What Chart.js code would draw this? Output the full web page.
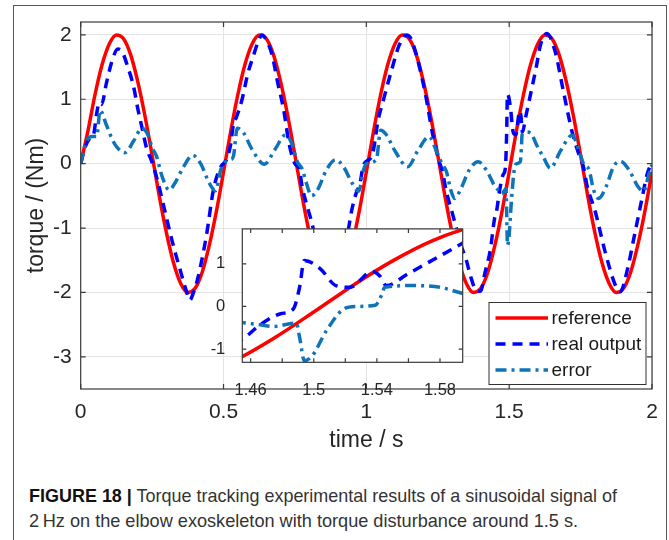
<!DOCTYPE html>
<html>
<head>
<meta charset="utf-8">
<script src="https://cdn.jsdelivr.net/npm/chart.js@4.4.0/dist/chart.umd.min.js"></script>
<style>
  html, body { margin: 0; padding: 0; background: #fff; }
  body { width: 669px; height: 540px; position: relative; overflow: hidden; font-family: "Liberation Sans", Arial, sans-serif; }
  #frame { position: absolute; left: 13px; top: 5px; width: 654px; height: 600px; border: 1.5px solid #555; box-sizing: border-box; }
  #main { position: absolute; left: 0; top: 0; }
  #inset { position: absolute; left: 190px; top: 210px; }
  #caption { position: absolute; left: 29px; top: 483px; font-size: 18.5px; line-height: 25px; color: #333; }
  #caption div { white-space: nowrap; transform-origin: 0 50%; display: inline-block; }
  #caption b { color: #111; }
</style>
</head>
<body>
<div id="frame"></div>
<canvas id="main" width="669" height="460"></canvas>
<canvas id="inset" width="290" height="190"></canvas>
<div id="caption">
  <div id="cap1"><b>FIGURE 18 |</b> Torque tracking experimental results of a sinusoidal signal of</div><br>
  <div id="cap2">2&#8201;Hz on the elbow exoskeleton with torque disturbance around 1.5 s.</div>
</div>
<script>
// values (time in s, torque in Nm)

const refT = [0, 0.025, 0.05, 0.075, 0.1, 0.125, 0.15, 0.175, 0.2, 0.225,
  0.25, 0.275, 0.3, 0.325, 0.35, 0.375, 0.4, 0.425, 0.45, 0.475,
  0.5, 0.525, 0.55, 0.575, 0.6, 0.625, 0.65, 0.675, 0.7, 0.725,
  0.75, 0.775, 0.8, 0.825, 0.85, 0.875, 0.9, 0.925, 0.95, 0.975,
  1.0, 1.025, 1.05, 1.075, 1.1, 1.125, 1.15, 1.175, 1.2, 1.225,
  1.25, 1.275, 1.3, 1.325, 1.35, 1.375, 1.4, 1.425, 1.45, 1.475,
  1.5, 1.525, 1.55, 1.575, 1.6, 1.625, 1.65, 1.675, 1.7, 1.725,
  1.75, 1.775, 1.8, 1.825, 1.85, 1.875, 1.9, 1.925, 1.95, 1.975, 2.0];
const refV = [0, 0.50, 1.07, 1.54, 1.86, 2.00, 1.94, 1.69, 1.27, 0.74,
  0.13, -0.50, -1.07, -1.54, -1.86, -2.00, -1.94, -1.69, -1.27, -0.74,
  -0.13, 0.50, 1.07, 1.54, 1.86, 2.00, 1.94, 1.69, 1.27, 0.74,
  0.13, -0.50, -1.07, -1.54, -1.86, -2.00, -1.94, -1.69, -1.27, -0.74,
  -0.13, 0.50, 1.07, 1.54, 1.86, 2.00, 1.94, 1.69, 1.27, 0.74,
  0.13, -0.50, -1.07, -1.54, -1.86, -2.00, -1.94, -1.69, -1.27, -0.74,
  -0.13, 0.50, 1.07, 1.54, 1.86, 2.00, 1.94, 1.69, 1.27, 0.74,
  0.13, -0.50, -1.07, -1.54, -1.86, -2.00, -1.94, -1.69, -1.27, -0.74, -0.13];

const realT = [0, 0.015, 0.03, 0.045, 0.056, 0.065, 0.073, 0.09, 0.11, 0.13,
  0.145, 0.165, 0.185, 0.2, 0.215, 0.23, 0.25, 0.27, 0.29, 0.32,
  0.35, 0.37, 0.382, 0.395, 0.41, 0.44, 0.465, 0.49, 0.51, 0.525,
  0.535, 0.545, 0.565, 0.585, 0.605, 0.62, 0.635, 0.65, 0.67, 0.69,
  0.71, 0.73, 0.75, 0.765, 0.775, 0.79, 0.805, 0.83, 0.855, 0.875,
  0.89, 0.91, 0.93, 0.95, 0.965, 0.978, 0.99, 1.02, 1.03, 1.04,
  1.058, 1.087, 1.115, 1.14, 1.155, 1.175, 1.205, 1.233, 1.255, 1.265,
  1.28, 1.303, 1.33, 1.35, 1.365, 1.385, 1.4, 1.415, 1.434, 1.449,
  1.455, 1.466, 1.479, 1.487, 1.491, 1.494, 1.504, 1.514, 1.523, 1.537,
  1.542, 1.546, 1.559, 1.573, 1.594, 1.61, 1.632, 1.661, 1.69, 1.72,
  1.749, 1.76, 1.772, 1.801, 1.836, 1.871, 1.889, 1.912, 1.941, 1.965,
  1.982, 2.0];
const realV = [0, 0.25, 0.38, 0.45, 0.78, 0.95, 0.92, 1.25, 1.6, 1.78,
  1.74, 1.5, 1.2, 0.85, 0.55, 0.25, 0.02, -0.28, -0.65, -1.2,
  -1.68, -1.98, -2.12, -2.0, -1.78, -1.12, -0.4, -0.05, 0.06, 0.3,
  0.62, 0.72, 1.0, 1.4, 1.68, 1.88, 2.0, 1.92, 1.69, 1.25,
  0.85, 0.3, 0.0, -0.08, -0.35, -0.62, -0.85, -1.3, -1.75, -1.97,
  -2.0, -1.6, -1.2, -0.7, -0.45, -0.3, -0.02, 0.12, 0.35, 0.65,
  0.96, 1.43, 1.84, 2.0, 1.95, 1.69, 1.12, 0.44, 0.03, -0.1,
  -0.43, -0.8, -1.25, -1.5, -1.75, -1.97, -1.98, -1.7, -1.34, -0.85,
  -0.76, -0.43, -0.17, -0.06, 0.45, 1.08, 0.89, 0.49, 0.45, 0.82,
  0.71, 0.49, 0.75, 1.04, 1.48, 1.85, 2.02, 1.74, 1.12, 0.5,
  0.08, -0.05, -0.33, -0.74, -1.37, -1.88, -1.99, -1.68, -1.06, -0.54,
  -0.18, 0.03];

const errT = [0, 0.01, 0.023, 0.04, 0.056, 0.068, 0.09, 0.11, 0.126, 0.155,
  0.185, 0.214, 0.235, 0.25, 0.265, 0.285, 0.31, 0.33, 0.36, 0.392,
  0.42, 0.45, 0.472, 0.49, 0.5, 0.525, 0.535, 0.548, 0.57, 0.6,
  0.643, 0.68, 0.718, 0.74, 0.758, 0.775, 0.79, 0.808, 0.83, 0.86,
  0.892, 0.92, 0.95, 0.973, 0.99, 1.0, 1.035, 1.05, 1.07, 1.1,
  1.145, 1.18, 1.22, 1.245, 1.265, 1.28, 1.295, 1.309, 1.33, 1.36,
  1.391, 1.42, 1.45, 1.466, 1.474, 1.489, 1.491, 1.494, 1.499, 1.508,
  1.519, 1.527, 1.539, 1.543, 1.545, 1.563, 1.58, 1.594, 1.62, 1.644,
  1.68, 1.72, 1.745, 1.76, 1.78, 1.795, 1.813, 1.84, 1.865, 1.889,
  1.92, 1.95, 1.97, 1.99, 2.0];
const errV = [0, 0.2, 0.37, 0.42, 0.42, 0.83, 0.6, 0.38, 0.26, 0.17,
  0.35, 0.55, 0.45, 0.25, 0.12, -0.2, -0.41, -0.3, -0.05, 0.13,
  0.0, -0.3, -0.42, -0.1, 0.0, 0.06, 0.12, 0.55, 0.48, 0.22,
  -0.01, 0.22, 0.45, 0.3, 0.03, -0.08, -0.3, -0.5, -0.4, -0.1,
  0.06, -0.05, -0.3, -0.43, -0.1, 0.0, 0.06, 0.52, 0.45, 0.2,
  -0.05, 0.2, 0.42, 0.2, 0.0, -0.12, -0.4, -0.54, -0.4, -0.1,
  0.03, -0.1, -0.35, -0.43, -0.47, -0.39, -0.72, -1.27, -1.16, -0.57,
  -0.06, 0.0, 0.03, 0.27, 0.45, 0.49, 0.45, 0.31, 0.1, -0.07,
  0.2, 0.44, 0.2, 0.0, -0.1, -0.4, -0.54, -0.35, -0.05, 0.04,
  -0.1, -0.35, -0.43, -0.15, -0.02];

const seriesNames = ["reference", "real output", "error"];

const xTicks = [0, 0.5, 1, 1.5, 2];
const yTicks = [-3, -2, -1, 0, 1, 2];
const insetXTicks = [1.46, 1.48, 1.5, 1.52, 1.54, 1.56, 1.58];
const insetXLabels = [1.46, 1.5, 1.54, 1.58];
const insetYTicks = [-1, 0, 1];

const textColor = "#262626";
const axisColor = "#3a3a3a";

function toPts(ts, vs) {
    return ts.map((t, i) => ({ x: t, y: vs[i] }));
}

// plain number labels like matlab: 0, 0.5, 1 ...
function plainLabel(v) {
    return String(Math.round(v * 100) / 100);
}

function makeDatasets() {
    return [
        { label: seriesNames[0], data: toPts(refT, refV), borderColor: "#ff0000", borderWidth: 3.5, order: 3 },
        { label: seriesNames[1], data: toPts(realT, realV), borderColor: "#0000ff", borderWidth: 3.5, borderDash: [10, 7], order: 2 },
        { label: seriesNames[2], data: toPts(errT, errV), borderColor: "#0f74b7", borderWidth: 3.5, borderDash: [11, 5, 3, 5], order: 1 },
    ];
}

// white plot box, inward tick marks on all four sides, dark frame
const boxPlugin = {
    id: "matlabBox",
    beforeDraw(chart, args, opts) {
        if (!opts.fill) return;
        const a = chart.chartArea;
        chart.ctx.save();
        chart.ctx.fillStyle = "#fff";
        chart.ctx.fillRect(a.left, a.top, a.right - a.left, a.bottom - a.top);
        chart.ctx.restore();
    },
    afterDatasetsDraw(chart, args, opts) {
        const { ctx, chartArea: a, scales } = chart;
        const len = opts.len || 5;
        ctx.save();
        ctx.strokeStyle = axisColor;
        ctx.lineWidth = 1.2;
        ctx.beginPath();
        scales.x.ticks.forEach((t) => {
            const px = scales.x.getPixelForValue(t.value);
            ctx.moveTo(px, a.bottom);
            ctx.lineTo(px, a.bottom - len);
            ctx.moveTo(px, a.top);
            ctx.lineTo(px, a.top + len);
        });
        scales.y.ticks.forEach((t) => {
            const py = scales.y.getPixelForValue(t.value);
            ctx.moveTo(a.left, py);
            ctx.lineTo(a.left + len, py);
            ctx.moveTo(a.right, py);
            ctx.lineTo(a.right - len, py);
        });
        ctx.stroke();
        ctx.strokeRect(a.left, a.top, a.right - a.left, a.bottom - a.top);
        ctx.restore();
    },
};

// boxed legend in the lower right corner of the plot
const legendPlugin = {
    id: "boxLegend",
    afterDatasetsDraw(chart) {
        const { ctx, chartArea: a } = chart;
        const w = 157, h = 82;
        const left = a.right - 6 - w;
        const top = a.bottom - 4.5 - h;
        ctx.save();
        ctx.fillStyle = "#fff";
        ctx.fillRect(left, top, w, h);
        ctx.strokeStyle = "#333";
        ctx.lineWidth = 1;
        ctx.strokeRect(left, top, w, h);
        ctx.font = "19px 'Liberation Sans', Arial, sans-serif";
        ctx.textBaseline = "middle";
        chart.data.datasets.forEach((ds, i) => {
            const y = top + 15.5 + i * 26;
            ctx.strokeStyle = ds.borderColor;
            ctx.lineWidth = ds.borderWidth;
            ctx.setLineDash(ds.borderDash || []);
            ctx.beginPath();
            ctx.moveTo(left + 6.5, y);
            ctx.lineTo(left + 59, y);
            ctx.stroke();
            ctx.setLineDash([]);
            ctx.fillStyle = "#1a1a1a";
            ctx.fillText(ds.label, left + 62.5, y + 1);
        });
        ctx.restore();
    },
};

Chart.defaults.font.family = "'Liberation Sans', Arial, sans-serif";
Chart.defaults.color = textColor;

var mainChart = new Chart(document.getElementById("main").getContext("2d"), {
    type: "line",
    data: { datasets: makeDatasets() },
    options: {
        responsive: false,
        animation: false,
        layout: { padding: { left: 0, top: 22, right: 17, bottom: 0 } },
        elements: { point: { radius: 0 }, line: { cubicInterpolationMode: "monotone" } },
        plugins: { legend: { display: false }, tooltip: { enabled: false }, matlabBox: { len: 5 } },
        scales: {
            x: {
                type: "linear",
                min: 0,
                max: 2,
                afterBuildTicks: (s) => { s.ticks = xTicks.map((v) => ({ value: v })); },
                afterFit: (s) => { s.height = 71; },
                grid: { color: "#e4e4e4", drawTicks: false },
                border: { display: false },
                ticks: { padding: 11, font: { size: 21 }, maxRotation: 0, autoSkip: false, callback: plainLabel },
                title: { display: true, text: "time / s", font: { size: 23 }, padding: { top: 0, bottom: 6 } },
            },
            y: {
                type: "linear",
                min: -3.5,
                max: 2.2,
                afterBuildTicks: (s) => { s.ticks = yTicks.map((v) => ({ value: v })); },
                afterFit: (s) => { s.width = 80.7; },
                grid: { color: "#e4e4e4", drawTicks: false },
                border: { display: false },
                ticks: { padding: 9, font: { size: 21 }, callback: plainLabel },
                title: { display: true, text: "torque / (Nm)", font: { size: 23 }, padding: { top: 23, bottom: 0 } },
            },
        },
    },
    plugins: [boxPlugin, legendPlugin],
});

var insetChart = new Chart(document.getElementById("inset").getContext("2d"), {
    type: "line",
    data: { datasets: makeDatasets() },
    options: {
        responsive: false,
        animation: false,
        layout: { padding: { left: 0, top: 10, right: 17.3, bottom: 0 } },
        elements: { point: { radius: 0 }, line: { cubicInterpolationMode: "monotone" } },
        datasets: { line: { clip: 0 } },
        plugins: { legend: { display: false }, tooltip: { enabled: false }, matlabBox: { len: 4, fill: true } },
        scales: {
            x: {
                type: "linear",
                min: 1.4547,
                max: 1.5944,
                afterBuildTicks: (s) => { s.ticks = insetXTicks.map((v) => ({ value: v })); },
                afterFit: (s) => { s.height = 37.7; },
                grid: { display: false },
                border: { display: false },
                ticks: {
                    padding: 10,
                    font: { size: 16.5 },
                    maxRotation: 0,
                    autoSkip: false,
                    callback: (v) => (insetXLabels.some((l) => Math.abs(l - v) < 1e-6) ? plainLabel(v) : ""),
                },
            },
            y: {
                type: "linear",
                min: -1.31,
                max: 1.82,
                afterBuildTicks: (s) => { s.ticks = insetYTicks.map((v) => ({ value: v })); },
                afterFit: (s) => { s.width = 52.3; },
                grid: { display: false },
                border: { display: false },
                ticks: { padding: 9, font: { size: 16.5 }, callback: plainLabel },
            },
        },
    },
    plugins: [boxPlugin],
});

// fit the caption lines to the width they take in the figure
[["cap1", 588], ["cap2", 549]].forEach(([id, target]) => {
    const el = document.getElementById(id);
    el.style.transform = "scaleX(" + target / el.getBoundingClientRect().width + ")";
});
</script>
</body>
</html>
